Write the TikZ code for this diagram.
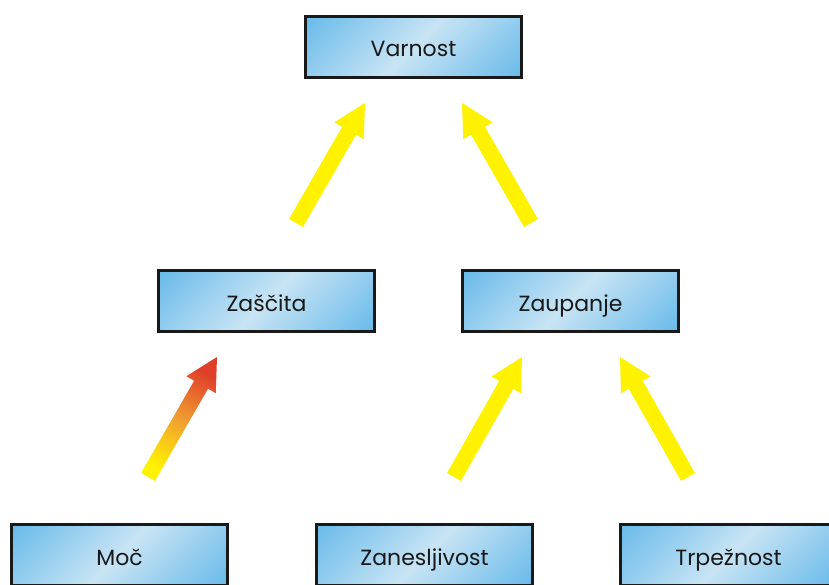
\documentclass[tikz,border=0pt]{standalone}
\usepackage{fontspec}
\setmainfont{Poppins}
\usetikzlibrary{calc}

\definecolor{boxblue}{HTML}{5AB4E8}
\definecolor{boxlight}{HTML}{C8E4F4}
\definecolor{arrowyellow}{HTML}{FFF200}
\definecolor{arrowred}{HTML}{E0402B}
\definecolor{arroworange}{HTML}{F0A030}

\tikzset{
  box/.style={draw=black!90, line width=2.6pt, minimum width=216pt, minimum height=61pt,
    inner sep=0pt, text height=22pt, text depth=2pt,
    path picture={
      \shade[top color=boxblue, bottom color=boxblue, middle color=boxlight, shading angle=45]
        (path picture bounding box.center) circle (112pt);},
    font=\fontsize{22}{26}\selectfont, text=black!90},
  yellowarrow/.style={fill=arrowyellow},
  heatarrow/.style={top color=arrowred, bottom color=arrowyellow, middle color=arroworange, shading angle=-30}
}

% block arrow from tail #2 to tip #3, filled with style #1
\newcommand\blockarrow[3]{%
  \coordinate (ba-base) at ($(#3)!32pt!(#2)$);
  \path[#1] ($(#2)!8pt!90:(#3)$) -- ($(ba-base)!8pt!-90:(#2)$) -- ($(ba-base)!17pt!-90:(#2)$)
    -- (#3) -- ($(ba-base)!17pt!90:(#2)$) -- ($(ba-base)!8pt!90:(#2)$)
    -- ($(#2)!8pt!-90:(#3)$) -- cycle;
}

\begin{document}
\begin{tikzpicture}[x=1pt,y=-1pt]
  \useasboundingbox (0,0) rectangle (829,585);

  \node[box] (varnost) at (413.5,47) {Varnost};
  \node[box] (zascita) at (266.5,301) {Zaščita};
  \node[box] (zaupanje) at (570.5,301) {Zaupanje};
  \node[box] (moc) at (119.5,555) {Moč};
  \node[box] (zanesljivost) at (424.5,555) {Zanesljivost};
  \node[box] (trpeznost) at (728.5,555) {Trpežnost};

  \coordinate (t1) at (296,223);  \coordinate (h1) at (365,103);
  \coordinate (t2) at (531,223);  \coordinate (h2) at (462,103);
  \coordinate (t3) at (148,477);  \coordinate (h3) at (217,357);
  \coordinate (t4) at (454,477);  \coordinate (h4) at (522,357);
  \coordinate (t5) at (688,477);  \coordinate (h5) at (620,357);

  \blockarrow{yellowarrow}{t1}{h1}
  \blockarrow{yellowarrow}{t2}{h2}
  \blockarrow{heatarrow}{t3}{h3}
  \blockarrow{yellowarrow}{t4}{h4}
  \blockarrow{yellowarrow}{t5}{h5}
\end{tikzpicture}
\end{document}
